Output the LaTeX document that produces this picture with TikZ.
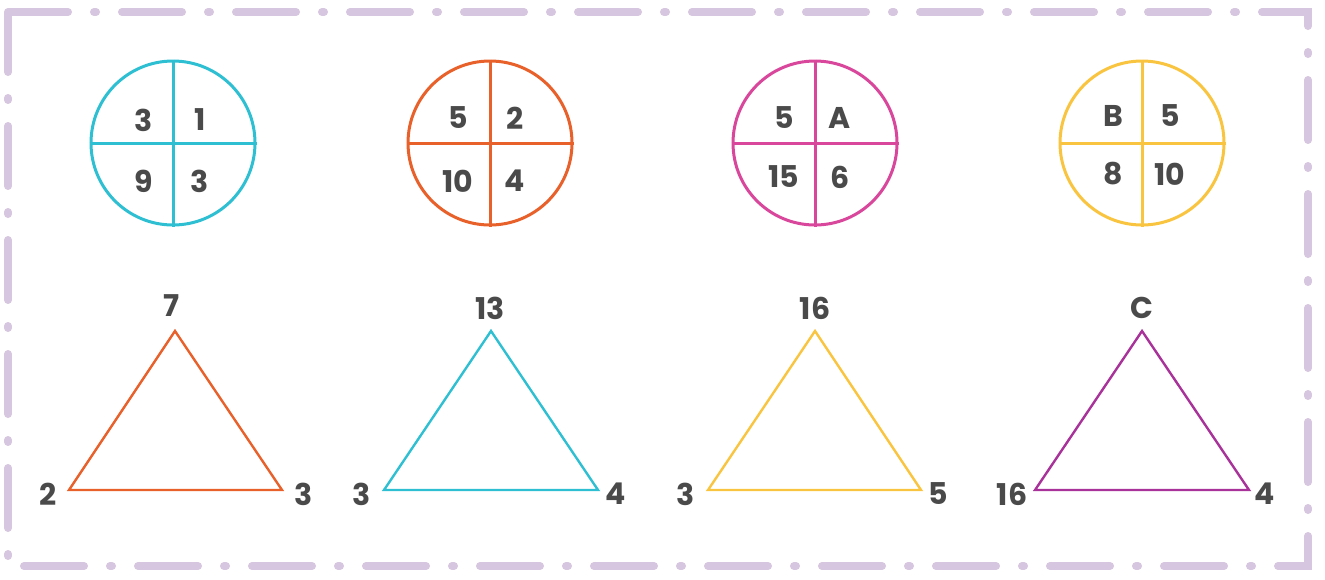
\documentclass[tikz,border=0pt]{standalone}
\usepackage{fontspec}
\setmainfont{Poppins}
\usepackage{tikz}

\definecolor{ink}{HTML}{4A4A4A}
\definecolor{frame}{HTML}{D6C6E0}
\definecolor{cyanc}{HTML}{2EBFD3}
\definecolor{orangec}{HTML}{E8602A}
\definecolor{pinkc}{HTML}{D9479C}
\definecolor{yellowc}{HTML}{F9C440}
\definecolor{purplec}{HTML}{A8329A}

\tikzset{
  lbl/.style={font=\fontsize{15}{18}\selectfont\bfseries, text=ink},
  ring/.style={circle, draw=#1, line width=1.5pt, minimum size=82pt, inner sep=0pt},
  tri/.style={draw=#1, line width=1.2pt, line join=miter},
}

\begin{document}
\begin{tikzpicture}[x=0.5pt,y=-0.5pt]
  \useasboundingbox (0,0) rectangle (1325,579);
  \draw[frame, line width=4pt, line cap=round,
        dash pattern=on 30pt off 13pt on 1pt off 13pt]
    (8,12) rectangle (1308,566);

  % circles
  \node[ring=cyanc] (c1) at (173,143) {};
  \draw[cyanc, line width=1.5pt] (c1.north) -- (c1.south) (c1.west) -- (c1.east);
  \node[lbl] (c1a) at (144,120) {3};
  \node[lbl] (c1b) at (200,120) {1};
  \node[lbl] (c1c) at (144,181) {9};
  \node[lbl] (c1d) at (200,181) {3};

  \node[ring=orangec] (c2) at (490,143) {};
  \draw[orangec, line width=1.5pt] (c2.north) -- (c2.south) (c2.west) -- (c2.east);
  \node[lbl] (c2a) at (458,118) {5};
  \node[lbl] (c2b) at (515,118) {2};
  \node[lbl] (c2c) at (458,181) {10};
  \node[lbl] (c2d) at (515,181) {4};

  \node[ring=pinkc] (c3) at (815,143) {};
  \draw[pinkc, line width=1.5pt] (c3.north) -- (c3.south) (c3.west) -- (c3.east);
  \node[lbl] (c3a) at (784,118) {5};
  \node[lbl] (c3b) at (840,118) {A};
  \node[lbl] (c3c) at (784,177) {15};
  \node[lbl] (c3d) at (840,177) {6};

  \node[ring=yellowc] (c4) at (1142,143) {};
  \draw[yellowc, line width=1.5pt] (c4.north) -- (c4.south) (c4.west) -- (c4.east);
  \node[lbl] (c4a) at (1113,116) {B};
  \node[lbl] (c4b) at (1170,116) {5};
  \node[lbl] (c4c) at (1113,174) {8};
  \node[lbl] (c4d) at (1170,174) {10};

  % triangles
  \coordinate (t1top) at (175,331);
  \coordinate (t1l) at (69,490);
  \coordinate (t1r) at (282,490);
  \draw[tri=orangec] (t1top) -- (t1l) -- (t1r) -- cycle;
  \node[lbl] (t1a) at (172,306) {7};
  \node[lbl] (t1b) at (48,494) {2};
  \node[lbl] (t1c) at (304,494) {3};

  \coordinate (t2top) at (491,331);
  \coordinate (t2l) at (384,490);
  \coordinate (t2r) at (598,490);
  \draw[tri=cyanc] (t2top) -- (t2l) -- (t2r) -- cycle;
  \node[lbl] (t2a) at (490,308) {13};
  \node[lbl] (t2b) at (362,494) {3};
  \node[lbl] (t2c) at (616,494) {4};

  \coordinate (t3top) at (815,331);
  \coordinate (t3l) at (708,490);
  \coordinate (t3r) at (921,490);
  \draw[tri=yellowc] (t3top) -- (t3l) -- (t3r) -- cycle;
  \node[lbl] (t3a) at (815,308) {16};
  \node[lbl] (t3b) at (686,494) {3};
  \node[lbl] (t3c) at (938,494) {5};

  \coordinate (t4top) at (1142,331);
  \coordinate (t4l) at (1035,490);
  \coordinate (t4r) at (1249,490);
  \draw[tri=purplec] (t4top) -- (t4l) -- (t4r) -- cycle;
  \node[lbl] (t4a) at (1142,308) {C};
  \node[lbl] (t4b) at (1012,494) {16};
  \node[lbl] (t4c) at (1265,494) {4};
\end{tikzpicture}
\end{document}
